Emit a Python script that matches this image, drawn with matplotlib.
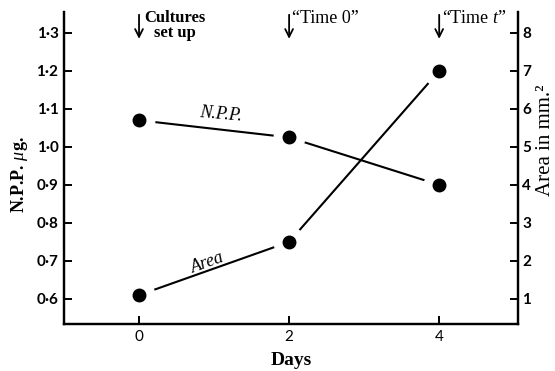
import matplotlib
matplotlib.use("Agg")
import matplotlib.pyplot as plt
import matplotlib.transforms as mtransforms

plt.rcParams["mathtext.fontset"] = "custom"
plt.rcParams["mathtext.rm"] = "Liberation Serif"
plt.rcParams["mathtext.it"] = "Liberation Serif:italic"
plt.rcParams["mathtext.bf"] = "Liberation Serif:bold"

days = [0, 2, 4]
npp = [1.07, 1.025, 0.90]
area = [1.1, 2.5, 7.0]
left_ticks = [0.6, 0.7, 0.8, 0.9, 1.0, 1.1, 1.2, 1.3]
left_labels = ["0·6", "0·7", "0·8", "0·9", "1·0", "1·1", "1·2", "1·3"]
right_ticks = [1, 2, 3, 4, 5, 6, 7, 8]
x_ticks = [0, 2, 4]
events = ["Cultures\nset up", "\u201cTime 0\u201d", "\u201cTime $t$\u201d"]

serif = "Liberation Serif"
sans = "Lato"

fig = plt.figure(figsize=(5.55, 3.71), dpi=100)
ax = fig.add_axes([0.1153, 0.1267, 0.9333 - 0.1153, 0.9677 - 0.1267])
ax2 = ax.twinx()

ax.set_xlim(-1, 5.05)
ax.set_ylim(0.534, 1.355)
ax2.set_ylim(0.34, 8.55)

for a in (ax, ax2):
    a.spines["top"].set_visible(False)
    for s in a.spines.values():
        s.set_linewidth(1.6)

# NPP line with gaps around markers
ax.plot(days, npp, color="black", lw=1.5, zorder=1)
ax.plot(days, npp, "o", color="white", ms=22, zorder=2)
ax.plot(days, npp, "o", color="black", ms=9, zorder=3)

ax2.plot(days, area, color="black", lw=1.5, zorder=1)
ax2.plot(days, area, "o", color="white", ms=22, zorder=2)
ax2.plot(days, area, "o", color="black", ms=9, zorder=3)

ax.set_xticks(x_ticks)
ax.set_xticklabels([str(d) for d in x_ticks], fontfamily=sans, fontsize=11)
ax.set_yticks(left_ticks)
ax.set_yticklabels(left_labels, fontfamily=sans, fontsize=11, fontweight="bold")
ax2.set_yticks(right_ticks)
ax2.set_yticklabels([str(t) for t in right_ticks], fontfamily=sans, fontsize=11, fontweight="bold")
ax.tick_params(axis="both", direction="in", length=6, width=1.4, pad=4)
ax2.tick_params(axis="y", direction="in", length=6, width=1.4, pad=3)

ax.set_xlabel("Days", fontfamily=serif, fontweight="bold", fontsize=14, labelpad=6)
fig.text(20 / 555, 1 - 175 / 371, "N.P.P. $\\mu$g.", fontfamily=serif, fontweight="bold",
         fontsize=13, rotation=90, ha="center", va="center")
fig.text(545 / 555, 1 - 140 / 371, "Area in mm.\u00b2", fontfamily=serif,
         fontsize=15, rotation=90, ha="center", va="center")

# series labels
ax.text(1.09, 1.058, "N.P.P.", fontfamily=serif, style="italic", fontsize=13,
        rotation=-5, ha="center", va="bottom")
ax2.text(0.92, 1.95, "Area", fontfamily=serif, style="italic", fontsize=13,
         rotation=20, ha="center", va="center")

trans = mtransforms.blended_transform_factory(ax.transData, ax.transAxes)
for d, label in zip(days, events):
    ax.annotate("", xy=(d, 0.905), xycoords=trans, xytext=(d, 1.0), textcoords=trans,
                arrowprops=dict(arrowstyle="->", lw=1.3, color="black",
                                mutation_scale=14), annotation_clip=False)
    if d == 0:
        ax.text(d + 0.48, 1.005, label, transform=trans, fontfamily=serif,
                fontweight="bold", fontsize=12, ha="center", va="top",
                multialignment="center", linespacing=0.9)
    else:
        ax.text(d + 0.04, 1.005, label, transform=trans, fontfamily=serif,
                fontsize=13, ha="left", va="top")

fig.savefig("out.png", dpi=100)
